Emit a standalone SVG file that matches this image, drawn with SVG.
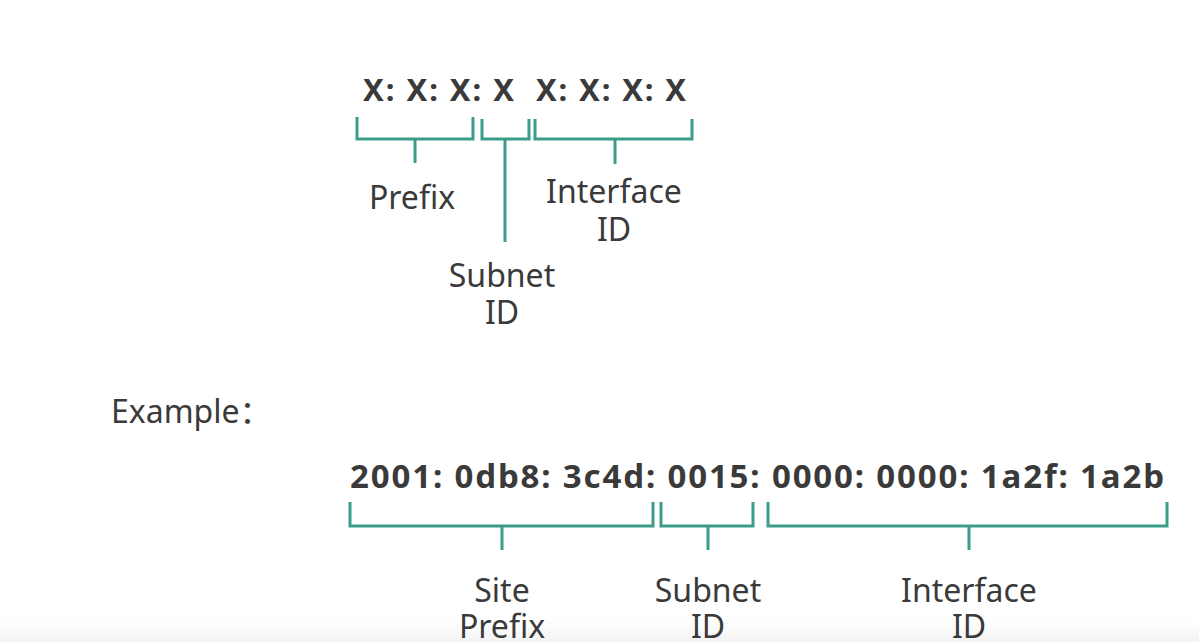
<svg xmlns="http://www.w3.org/2000/svg" width="1199" height="642" viewBox="0 0 1199 642">
<defs>
<linearGradient id="bg" x1="0" y1="0" x2="0" y2="1">
<stop offset="0" stop-color="#ffffff"/>
<stop offset="1" stop-color="#f3f3f3"/>
</linearGradient>
<style>
.b{fill:none;stroke:#3b9d89;stroke-width:3;stroke-linecap:butt;stroke-linejoin:miter}
.t{font-family:"Noto Sans","Noto Sans CJK SC","DejaVu Sans",sans-serif;fill:#3a3a3a}
.h{font-weight:bold;font-size:31px}
.l{font-size:32px;text-anchor:middle}
</style>
</defs>
<rect x="0" y="0" width="1199" height="642" fill="#ffffff"/>
<rect x="0" y="620" width="1199" height="22" fill="url(#bg)"/>

<g id="format">
<text class="t h" x="363" y="101" textLength="151" lengthAdjust="spacing">X: X: X: X</text>
<text class="t h" x="536" y="101" textLength="150" lengthAdjust="spacing">X: X: X: X</text>
</g>

<g id="connectors">
<path class="b" d="M357,117 V139 H473 V117 M415,139 V163"/>
<path class="b" d="M482,119 V139 H529 V119 M505,139 V242"/>
<path class="b" d="M535,119 V139 H692 V119 M615,139 V164"/>
<path class="b" d="M350,502 V526 H653 V502 M502,526 V550"/>
<path class="b" d="M661,502 V526 H753 V502 M708,526 V550"/>
<path class="b" d="M768,502 V526 H1167 V502 M969,526 V550"/>
</g>

<g id="prefix"><text class="t l" x="412" y="209">Prefix</text></g>
<g id="subnet-id"><text class="t l" x="502" y="287">Subnet</text><text class="t l" x="502" y="324">ID</text></g>
<g id="interface-id"><text class="t l" x="614" y="203">Interface</text><text class="t l" x="614" y="241">ID</text></g>

<g id="example-label"><text class="t" x="111" y="423" font-size="32">Example：</text></g>
<g id="example"><text class="t h" x="350" y="488" font-size="33" style="font-size:33px" textLength="814" lengthAdjust="spacing">2001: 0db8: 3c4d: 0015: 0000: 0000: 1a2f: 1a2b</text></g>

<g id="site-prefix"><text class="t l" x="502" y="602">Site</text><text class="t l" x="502" y="638">Prefix</text></g>
<g id="ex-subnet-id"><text class="t l" x="708" y="602">Subnet</text><text class="t l" x="708" y="638">ID</text></g>
<g id="ex-interface-id"><text class="t l" x="969" y="602">Interface</text><text class="t l" x="969" y="638">ID</text></g>
</svg>
